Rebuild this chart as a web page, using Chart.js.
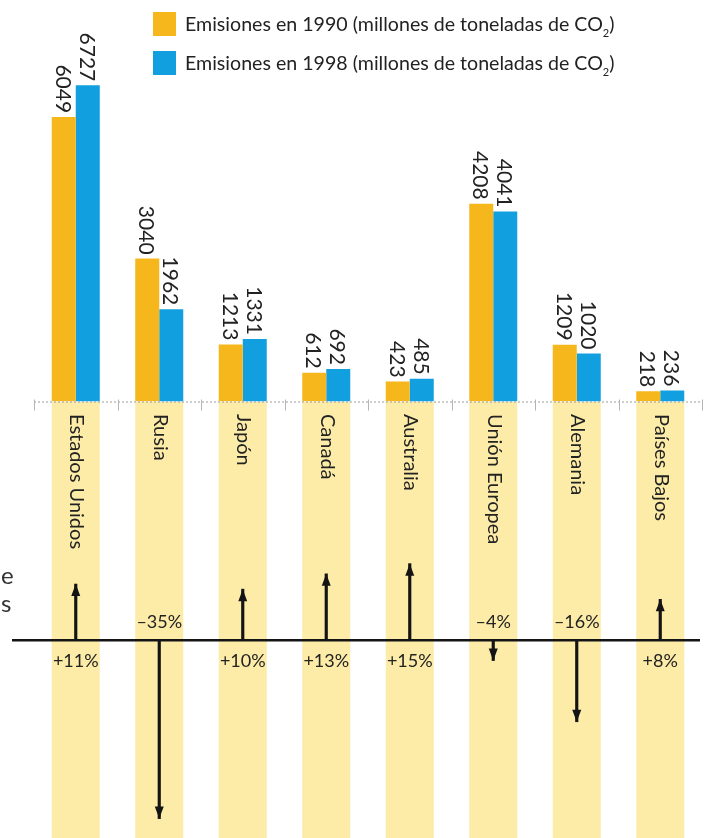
<!DOCTYPE html>
<html>
<head>
<meta charset="utf-8">
<script src="https://cdn.jsdelivr.net/npm/chart.js@4"></script>
<style>
  html, body { margin: 0; padding: 0; background: #fff; }
  #wrap { position: relative; width: 706px; height: 838px; overflow: hidden; font-family: 'Lato', 'Noto Sans', sans-serif; color: #222; }
  #low { position: absolute; left: 0; top: 402px; }
  #top { position: absolute; left: 0; top: 0; }
  #legend { position: absolute; left: 153px; top: 12px; }
  .row { position: relative; height: 39px; font-size: 19.6px; line-height: 24px; white-space: nowrap; }
  .sw { position: absolute; left: 0; top: 0; width: 23px; height: 24px; }
  .tx { position: absolute; left: 32px; top: 0; }
  .tx sub { font-size: 11px; vertical-align: -6px; }
  .edge { position: absolute; left: 1px; font-size: 24px; color: #333; }
</style>
</head>
<body>
<div id="wrap">
  <canvas id="low" width="706" height="436"></canvas>
  <canvas id="top" width="706" height="414"></canvas>
  <div id="legend"></div>
  <div class="edge" style="top:560px">e</div>
  <div class="edge" style="top:588px">s</div>
</div>
<script>
// Datos (millones de toneladas de CO2)
const countries = ['Estados Unidos', 'Rusia', 'Japón', 'Canadá', 'Australia', 'Unión Europea', 'Alemania', 'Países Bajos'];
const emissions1990 = [6049, 3040, 1213, 612, 423, 4208, 1209, 218];
const emissions1998 = [6727, 1962, 1331, 692, 485, 4041, 1020, 236];
const changePct = [11, -35, 10, 13, 15, -4, -16, 8];
const seriesLabels = ['Emisiones en 1990 (millones de toneladas de CO', 'Emisiones en 1998 (millones de toneladas de CO'];

const ORANGE = '#F6B71C';
const BLUE = '#129FE0';
const PALE = '#FCECA8';
const FONT = "'Lato', 'Noto Sans', sans-serif";

const pctMin = -38.8;
const pctMax = 46.7;

// Etiquetas de valor giradas y línea base punteada
const topPlugin = {
    id: 'topLabels',
    afterDatasetsDraw(chart) {
        const ctx = chart.ctx;
        const area = chart.chartArea;
        const xs = chart.scales.x;
        const catW = (area.right - area.left) / countries.length;

        // baseline
        ctx.save();
        ctx.strokeStyle = '#9a9a9a';
        ctx.lineWidth = 1;
        ctx.setLineDash([2, 2]);
        ctx.beginPath();
        ctx.moveTo(area.left, area.bottom + 0.5);
        ctx.lineTo(area.right, area.bottom + 0.5);
        ctx.stroke();
        ctx.setLineDash([]);
        ctx.strokeStyle = '#b5b5b5';
        for (let i = 0; i <= countries.length; i++) {
            const x = Math.round(xs.getPixelForValue(0) - catW / 2 + i * catW) + 0.5;
            ctx.beginPath();
            ctx.moveTo(x, area.bottom - 2);
            ctx.lineTo(x, area.bottom + 9);
            ctx.stroke();
        }
        ctx.restore();

        // value labels
        chart.data.datasets.forEach((ds, di) => {
            const meta = chart.getDatasetMeta(di);
            meta.data.forEach((bar, i) => {
                ctx.save();
                ctx.translate(bar.x, bar.y - 4);
                ctx.rotate(Math.PI / 2);
                ctx.font = '21px ' + FONT;
                ctx.fillStyle = '#222';
                ctx.textAlign = 'right';
                ctx.textBaseline = 'middle';
                ctx.fillText(String(ds.data[i]), 0, 1);
                ctx.restore();
            });
        });
    }
};

const topChart = new Chart(document.getElementById('top'), {
    type: 'bar',
    data: {
        labels: countries,
        datasets: [
            { label: seriesLabels[0], data: emissions1990, backgroundColor: ORANGE },
            { label: seriesLabels[1], data: emissions1998, backgroundColor: BLUE }
        ]
    },
    options: {
        responsive: false,
        animation: false,
        layout: { padding: { left: 34, right: 4, top: 0, bottom: 12.5 } },
        datasets: { bar: { categoryPercentage: 0.575, barPercentage: 1 } },
        scales: {
            x: { display: false },
            y: { display: false, min: 0, max: 8540 }
        },
        plugins: { legend: { display: false }, tooltip: { enabled: false } }
    },
    plugins: [topPlugin]
});

// Leyenda HTML a partir de los datasets
const legendEl = document.getElementById('legend');
topChart.data.datasets.forEach(ds => {
    const row = document.createElement('div');
    row.className = 'row';
    row.innerHTML = `<span class="sw" style="background:${ds.backgroundColor}"></span>` +
        `<span class="tx">${ds.label}<sub>2</sub>)</span>`;
    legendEl.appendChild(row);
});

// Flechas, porcentajes, nombres de países
const lowPlugin = {
    id: 'lowDecor',
    afterDatasetsDraw(chart) {
        const ctx = chart.ctx;
        const area = chart.chartArea;
        const xs = chart.scales.x;
        const ys = chart.scales.y;
        const y0 = ys.getPixelForValue(0);

        // zero line
        ctx.save();
        ctx.strokeStyle = '#141414';
        ctx.lineWidth = 2.5;
        ctx.beginPath();
        ctx.moveTo(12, y0);
        ctx.lineTo(700, y0);
        ctx.stroke();

        changePct.forEach((v, i) => {
            const x = xs.getPixelForValue(i);
            const tip = ys.getPixelForValue(v);
            const dir = v > 0 ? 1 : -1;
            // arrow head
            ctx.fillStyle = '#141414';
            ctx.beginPath();
            ctx.moveTo(x, tip);
            ctx.lineTo(x - 4.5, tip + dir * 12);
            ctx.lineTo(x + 4.5, tip + dir * 12);
            ctx.closePath();
            ctx.fill();
            // percentage
            ctx.font = '18px ' + FONT;
            ctx.fillStyle = '#222';
            ctx.textAlign = 'center';
            ctx.textBaseline = 'middle';
            const txt = (v > 0 ? '+' : '–') + Math.abs(v) + '%';
            ctx.fillText(txt, x, v > 0 ? y0 + 21 : y0 - 18);
            // country name
            ctx.save();
            ctx.translate(x + 1, area.top + 12);
            ctx.rotate(Math.PI / 2);
            ctx.font = '20px ' + FONT;
            ctx.textAlign = 'left';
            ctx.fillText(countries[i], 0, 0);
            ctx.restore();
        });
        ctx.restore();
    }
};

new Chart(document.getElementById('low'), {
    type: 'bar',
    data: {
        labels: countries,
        datasets: [
            {
                label: 'cambio',
                data: changePct.map(v => [0, v]),
                backgroundColor: '#141414',
                barThickness: 2.5,
                grouped: false,
                order: 1
            },
            {
                label: 'fondo',
                data: countries.map(() => [pctMin, pctMax]),
                backgroundColor: PALE,
                categoryPercentage: 0.575,
                barPercentage: 1,
                grouped: false,
                order: 2
            }
        ]
    },
    options: {
        responsive: false,
        animation: false,
        layout: { padding: { left: 34, right: 4, top: 0, bottom: 0 } },
        scales: {
            x: { display: false },
            y: { display: false, min: pctMin, max: pctMax }
        },
        plugins: { legend: { display: false }, tooltip: { enabled: false } }
    },
    plugins: [lowPlugin]
});
</script>
</body>
</html>
